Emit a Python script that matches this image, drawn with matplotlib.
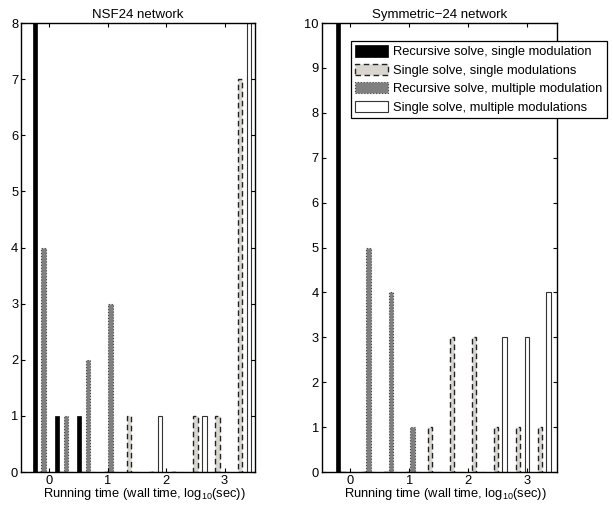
import matplotlib
matplotlib.use('Agg')
import matplotlib.pyplot as plt
import numpy as np

plt.rcParams['font.family'] = ['Liberation Sans', 'DejaVu Sans']
plt.rcParams['mathtext.fontset'] = 'custom'
plt.rcParams['mathtext.rm'] = 'Liberation Sans'
plt.rcParams['font.size'] = 9.3

# histogram bin centres, log10(sec)
nsf_bins = [-0.13, 0.25, 0.63, 1.01, 1.40, 1.78, 2.16, 2.54, 2.92, 3.30]
sym_bins = [-0.10, 0.27, 0.65, 1.02, 1.39, 1.77, 2.14, 2.51, 2.89, 3.26]

labels = ['Recursive solve, single modulation',
          'Single solve, single modulations',
          'Recursive solve, multiple modulation',
          'Single solve, multiple modulations']

# counts per bin
nsf_rec_single = [8, 1, 1, 0, 0, 0, 0, 0, 0, 0]
nsf_one_single = [0, 0, 0, 0, 1, 0, 0, 1, 1, 7]
nsf_rec_multi = [4, 1, 2, 3, 0, 0, 0, 0, 0, 0]
nsf_one_multi = [0, 0, 0, 0, 0, 1, 0, 1, 0, 8]

sym_rec_single = [10, 0, 0, 0, 0, 0, 0, 0, 0, 0]
sym_one_single = [0, 0, 0, 0, 1, 3, 3, 1, 1, 1]
sym_rec_multi = [0, 5, 4, 1, 0, 0, 0, 0, 0, 0]
sym_one_multi = [0, 0, 0, 0, 0, 0, 0, 3, 3, 4]

styles = [
    dict(facecolor='black', edgecolor='black', linewidth=0.5),
    dict(facecolor='#d9d6cf', edgecolor='#222222', linestyle=(0, (4, 2.5)), linewidth=1.0),
    dict(facecolor='#808080', edgecolor='#444444', linestyle=':', linewidth=0.8),
    dict(facecolor='white', edgecolor='#333333', linewidth=0.8),
]


def grouped(ax, bins, series, ymax, title, xlim):
    bins = np.asarray(bins)
    w = 0.8 * np.mean(np.diff(bins)) / len(series)
    handles = []
    for i, (vals, st) in enumerate(zip(series, styles)):
        h = ax.bar(bins + (i - 1.5) * w, vals, width=w, **st)
        handles.append(h)
    ax.set_xlim(*xlim)
    ax.set_ylim(0, ymax)
    ax.set_xticks([0, 1, 2, 3])
    ax.set_yticks(range(ymax + 1))
    ax.tick_params(direction='in', top=True, right=True, length=3, width=0.8, pad=2)
    for s in ax.spines.values():
        s.set_linewidth(1.0)
    ax.set_title(title, fontsize=9.5, pad=4)
    ax.set_xlabel('Running time (wall time, log$_{\\rm 10}$(sec))')
    ax.xaxis.set_label_coords(0.528, -0.031)
    return handles


fig = plt.figure(figsize=(6.13, 5.05), dpi=100)
ax1 = fig.add_axes([0.0343, 0.0653, 0.3817, 0.889])
ax2 = fig.add_axes([0.5248, 0.0653, 0.3834, 0.889])

grouped(ax1, nsf_bins, [nsf_rec_single, nsf_one_single, nsf_rec_multi, nsf_one_multi],
        8, 'NSF24 network', (-0.48, 3.52))
hs = grouped(ax2, sym_bins, [sym_rec_single, sym_one_single, sym_rec_multi, sym_one_multi],
             10, 'Symmetric\u221224 network', (-0.49, 3.51))

leg = fig.legend(hs, labels, loc='upper left', bbox_to_anchor=(0.572, 0.919),
                 fontsize=9.3, frameon=True, fancybox=False, framealpha=1,
                 edgecolor='black', borderpad=0.35, labelspacing=0.42,
                 handlelength=2.55, handleheight=0.95, handletextpad=0.4,
                 borderaxespad=0)
leg.get_frame().set_linewidth(0.9)

fig.savefig('out.png', dpi=100)
